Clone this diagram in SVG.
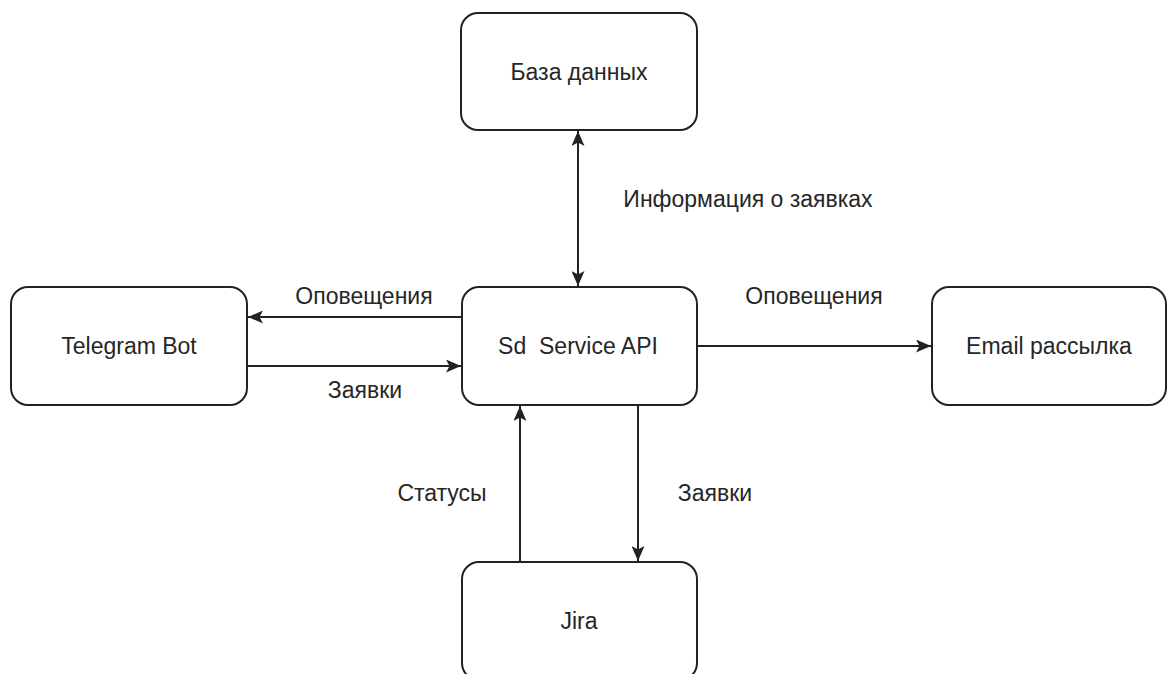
<svg xmlns="http://www.w3.org/2000/svg" width="1167" height="674" viewBox="0 0 1167 674">
  <style>
    .node rect { fill: #ffffff; stroke: #222222; stroke-width: 2; }
    .node text, .label { font-family: "Liberation Sans", Arial, sans-serif; font-size: 23px; fill: #262626; text-anchor: middle; }
    .edge { stroke: #222222; stroke-width: 2; fill: none; }
  </style>
  <defs>
    <marker id="arrow" viewBox="0 0 15 13" refX="15" refY="6.5" markerWidth="15" markerHeight="13" markerUnits="userSpaceOnUse" orient="auto-start-reverse">
      <path d="M0,0 L15,6.5 L0,13 L3.5,6.5 Z" fill="#222222"/>
    </marker>
  </defs>
  <rect width="1167" height="674" fill="#ffffff"/>

  <g id="connectors">
    <line class="edge" x1="578" y1="131" x2="578" y2="286" marker-start="url(#arrow)" marker-end="url(#arrow)"/>
    <line class="edge" x1="462" y1="317" x2="248" y2="317" marker-end="url(#arrow)"/>
    <line class="edge" x1="247" y1="366" x2="461" y2="366" marker-end="url(#arrow)"/>
    <line class="edge" x1="697" y1="346" x2="931" y2="346" marker-end="url(#arrow)"/>
    <line class="edge" x1="520" y1="562" x2="520" y2="406" marker-end="url(#arrow)"/>
    <line class="edge" x1="638" y1="405" x2="638" y2="561" marker-end="url(#arrow)"/>
  </g>

  <g id="edge-labels">
    <text class="label" x="748" y="207">Информация о заявках</text>
    <text class="label" x="364" y="304">Оповещения</text>
    <text class="label" x="365" y="398">Заявки</text>
    <text class="label" x="814" y="304">Оповещения</text>
    <text class="label" x="442" y="501">Статусы</text>
    <text class="label" x="715" y="501">Заявки</text>
  </g>

  <g id="node-db" class="node">
    <rect x="461" y="13" width="236" height="117" rx="17" ry="17"/>
    <text x="579" y="80">База данных</text>
  </g>
  <g id="node-api" class="node">
    <rect x="462" y="287" width="235" height="118" rx="17" ry="17"/>
    <text x="578" y="354" xml:space="preserve">Sd  Service API</text>
  </g>
  <g id="node-telegram" class="node">
    <rect x="11" y="287" width="236" height="118" rx="17" ry="17"/>
    <text x="129" y="354">Telegram Bot</text>
  </g>
  <g id="node-email" class="node">
    <rect x="932" y="287" width="234" height="118" rx="17" ry="17"/>
    <text x="1049" y="354">Email рассылка</text>
  </g>
  <g id="node-jira" class="node">
    <rect x="462" y="562" width="235" height="118" rx="17" ry="17"/>
    <text x="579" y="629">Jira</text>
  </g>
</svg>
